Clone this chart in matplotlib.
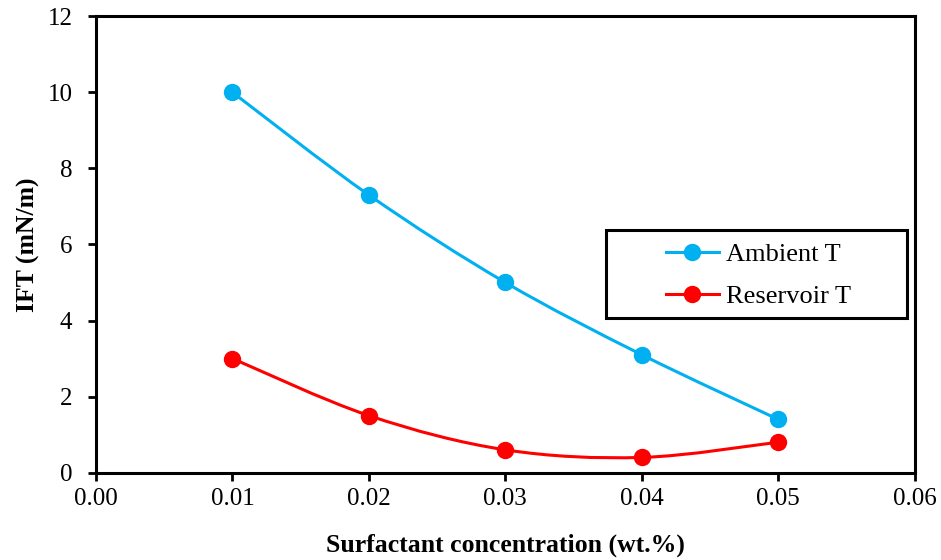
import numpy as np
import matplotlib
matplotlib.use("Agg")
import matplotlib.pyplot as plt
from matplotlib.path import Path
from matplotlib.patches import PathPatch, Rectangle
from matplotlib.lines import Line2D

plt.rcParams['font.family'] = ['Liberation Serif', 'DejaVu Serif']

conc = [0.01, 0.02, 0.03, 0.04, 0.05]
ambient = [10.0, 7.3, 5.0, 3.1, 1.4]
reservoir = [3.0, 1.5, 0.6, 0.4, 0.8]
xticks = [0.00, 0.01, 0.02, 0.03, 0.04, 0.05, 0.06]
yticks = [0, 2, 4, 6, 8, 10, 12]

blue = '#00B0F0'
red = '#FF0000'


def smooth_path(x, y):
    x = np.asarray(x, float)
    y = np.asarray(y, float)
    n = len(x)
    verts = [(x[0], y[0])]
    codes = [Path.MOVETO]
    for i in range(n - 1):
        p0 = (x[i - 1], y[i - 1]) if i > 0 else (x[i], y[i])
        p1 = (x[i], y[i])
        p2 = (x[i + 1], y[i + 1])
        p3 = (x[i + 2], y[i + 2]) if i + 2 < n else (x[i + 1], y[i + 1])
        t = 1 / 6
        c1 = (p1[0] + (p2[0] - p0[0]) * t, p1[1] + (p2[1] - p0[1]) * t)
        c2 = (p2[0] - (p3[0] - p1[0]) * t, p2[1] - (p3[1] - p1[1]) * t)
        verts += [c1, c2, p2]
        codes += [Path.CURVE4] * 3
    return Path(verts, codes)


fig = plt.figure(figsize=(9.41, 5.6), dpi=100)
ax = fig.add_axes([0.102, 0.156, 0.870, 0.815])

for ys, c in [(ambient, blue), (reservoir, red)]:
    ax.add_patch(PathPatch(smooth_path(conc, ys), facecolor='none', edgecolor=c, lw=2.2, zorder=2))
    ax.plot(conc, ys, linestyle='none', marker='o', ms=11.5, color=c, zorder=3)

ax.set_xlim(0, 0.06)
ax.set_ylim(0, 12)
ax.set_xticks(xticks)
ax.set_xticklabels([f"{v:.2f}" for v in xticks])
ax.set_yticks(yticks)
ax.tick_params(direction='out', length=6, width=2, labelsize=18)
ax.tick_params(axis='x', pad=5)
ax.tick_params(axis='y', pad=11)
for s in ax.spines.values():
    s.set_linewidth(2.2)
ax.set_xlabel('Surfactant concentration (wt.%)', fontsize=18.5, fontweight='bold', labelpad=17)
ax.set_ylabel('IFT (mN/m)', fontsize=18.5, fontweight='bold', labelpad=5)

handles = [Line2D([], [], color=blue, lw=2.2, marker='o', ms=11.5),
           Line2D([], [], color=red, lw=2.2, marker='o', ms=11.5)]
leg = ax.legend(handles, ['Ambient T', 'Reservoir T'], loc='center left',
                bbox_to_anchor=(0.696, 0.432), fontsize=19, frameon=False,
                handlelength=2.0, handletextpad=0.3, borderpad=0.0,
                borderaxespad=0.0, labelspacing=0.72)
ax.add_patch(Rectangle((0.623, 0.338), 0.368, 0.193, transform=ax.transAxes,
                       facecolor='white', edgecolor='black', lw=2.2, zorder=4))
leg.set_zorder(5)

fig.savefig('out.png', dpi=100)
